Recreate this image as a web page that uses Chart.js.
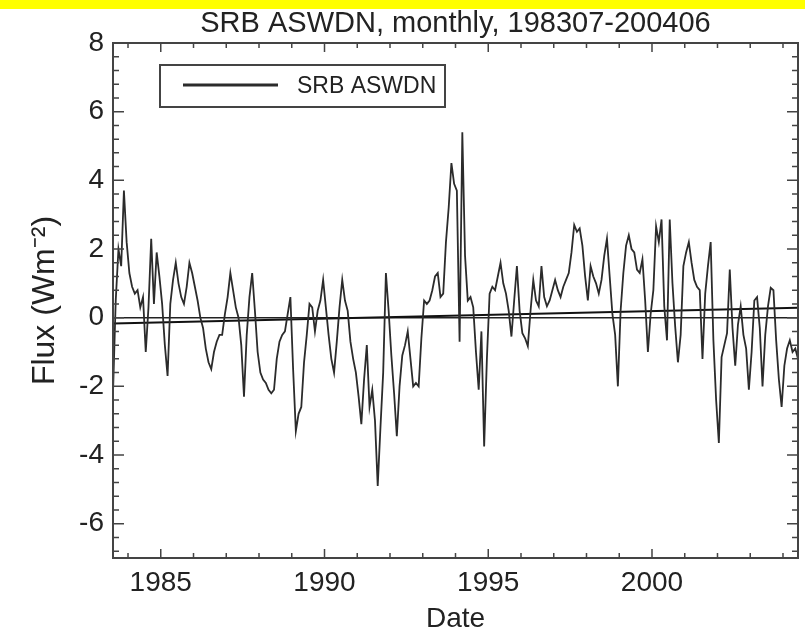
<!DOCTYPE html>
<html>
<head>
<meta charset="utf-8">
<title>SRB ASWDN, monthly</title>
<script src="https://cdn.jsdelivr.net/npm/chart.js@4.4.1/dist/chart.umd.min.js"></script>
<style>
    html, body { margin: 0; padding: 0; background: #fff; }
    #wrap { width: 805px; height: 634px; position: relative; }
</style>
</head>
<body>
<div id="wrap"><canvas id="flux-chart"></canvas></div>
<script>
// monthly anomalies, first value is 1983-07
const startYear = 1983;
const startMonth = 7;
const fluxValues = [
    -2.2, 0.5, 2.0, 1.5, 3.7, 2.2, 1.3, 0.9, 0.7, 0.8, 0.3, 0.6,
    -1.0, 0.3, 2.3, 0.4, 1.9, 1.2, 0.4, -0.8, -1.7, 0.4, 1.1, 1.6,
    1.0, 0.6, 0.4, 0.9, 1.6, 1.3, 0.9, 0.5, 0.0, -0.3, -0.9, -1.3,
    -1.5, -1.0, -0.7, -0.5, -0.5, 0.1, 0.6, 1.3, 0.8, 0.3, 0.0, -0.8,
    -2.3, -0.5, 0.6, 1.3, 0.2, -1.0, -1.6, -1.8, -1.9, -2.1, -2.2, -2.1,
    -1.2, -0.7, -0.5, -0.4, 0.1, 0.6, -1.5, -3.3, -2.8, -2.6, -1.3, -0.5,
    0.4, 0.3, -0.4, 0.2, 0.5, 1.1, 0.3, -0.5, -1.2, -1.6, -0.7, 0.3,
    1.1, 0.5, 0.2, -0.7, -1.2, -1.6, -2.3, -3.1, -1.8, -0.8, -2.6, -2.1,
    -3.0, -4.9, -3.2, -1.6, 1.3, 0.2, -1.1, -2.2, -3.45, -2.0, -1.1, -0.8,
    -0.4, -1.2, -2.0, -1.9, -2.0, -0.6, 0.5, 0.4, 0.5, 0.8, 1.2, 1.3,
    0.6, 0.7, 2.2, 3.2, 4.5, 3.9, 3.7, -0.7, 5.4, 1.8, 0.5, 0.6,
    0.3, -1.0, -2.1, -0.4, -3.75, -1.2, 0.7, 0.9, 0.8, 1.2, 1.6, 1.0,
    0.7, 0.2, -0.55, 0.5, 1.5, 0.2, -0.45, -0.6, -0.83, 0.2, 1.1, 0.5,
    0.33, 1.5, 0.6, 0.33, 0.5, 0.8, 1.1, 0.8, 0.6, 0.9, 1.1, 1.3,
    1.9, 2.7, 2.5, 2.6, 2.1, 1.2, 0.5, 1.5, 1.2, 1.0, 0.7, 1.1,
    1.8, 2.3, 1.2, 0.1, -0.5, -2.0, 0.2, 1.3, 2.1, 2.4, 2.0, 1.9,
    1.4, 1.3, 1.7, 0.5, -1.0, 0.1, 0.8, 2.66, 2.2, 2.86, 0.33, -0.66,
    2.86, 1.0, -0.26, -1.3, -0.5, 1.5, 1.9, 2.2, 1.6, 1.1, 0.9, 0.8,
    -1.2, 0.7, 1.5, 2.2, -0.66, -2.4, -3.65, -1.15, -0.8, -0.45, 1.4, -0.3,
    -1.4, -0.2, 0.33, -0.5, -0.9, -2.1, -1.0, 0.5, 0.6, -0.3, -2.0, -0.5,
    0.33, 0.87, 0.8, -0.66, -1.8, -2.6, -1.4, -0.9, -0.66, -1.0, -0.9, -1.2
];
const trendEnds = [-0.17, 0.29];   // linear fit at first / last month
const xTickYears = [1985, 1990, 1995, 2000];
const yTickValues = [-6, -4, -2, 0, 2, 4, 6, 8];

const seriesLabel = 'SRB ASWDN';
const fontFamily = "'Liberation Sans', Arial, Helvetica, sans-serif";

// decimal year at mid-month
const dates = fluxValues.map((v, i) => startYear + (startMonth - 1 + i + 0.5) / 12);
const firstDate = dates[0];
const lastDate = dates[dates.length - 1];

Chart.defaults.font.family = fontFamily;
Chart.defaults.color = '#222';

// white page, yellow strip, IDL style box with inward ticks, legend box
const idlFrame = {
    id: 'idlFrame',
    beforeDraw(chart) {
        const ctx = chart.ctx;
        ctx.save();
        ctx.fillStyle = '#fff';
        ctx.fillRect(0, 0, chart.width, chart.height);
        ctx.fillStyle = '#ffff00';
        ctx.fillRect(0, 0, chart.width, 9);
        ctx.restore();
    },
    afterDatasetsDraw(chart) {
        const {ctx, chartArea: a, scales: {x, y}} = chart;
        ctx.save();
        ctx.strokeStyle = '#444';
        ctx.lineWidth = 2;
        ctx.strokeRect(a.left, a.top, a.right - a.left, a.bottom - a.top);

        ctx.lineWidth = 1.5;
        ctx.beginPath();
        for (let yr = Math.ceil(x.min); yr <= Math.floor(x.max); yr++) {
            const px = x.getPixelForValue(yr);
            const len = yr % 5 === 0 ? 9 : 5;
            ctx.moveTo(px, a.bottom); ctx.lineTo(px, a.bottom - len);
            ctx.moveTo(px, a.top); ctx.lineTo(px, a.top + len);
        }
        for (let k = Math.ceil(y.min / 0.4); k <= Math.floor(y.max / 0.4); k++) {
            const v = k * 0.4;
            const py = y.getPixelForValue(v);
            const len = k % 5 === 0 ? 11 : 6;
            ctx.moveTo(a.left, py); ctx.lineTo(a.left + len, py);
            ctx.moveTo(a.right, py); ctx.lineTo(a.right - len, py);
        }
        ctx.stroke();
        ctx.restore();
    },
    afterDraw(chart) {
        const ctx = chart.ctx;
        const ds = chart.data.datasets[0];
        ctx.save();
        ctx.strokeStyle = '#444';
        ctx.lineWidth = 2;
        ctx.strokeRect(160, 65, 285, 42);
        ctx.strokeStyle = ds.borderColor;
        ctx.lineWidth = 3;
        ctx.beginPath();
        ctx.moveTo(183, 85);
        ctx.lineTo(278, 85);
        ctx.stroke();
        ctx.fillStyle = '#222';
        ctx.font = '23px ' + fontFamily;
        ctx.textBaseline = 'middle';
        ctx.fillText(ds.label, 297, 87);
        ctx.restore();
    }
};

new Chart(document.getElementById('flux-chart'), {
    type: 'line',
    data: {
        datasets: [
            {
                label: seriesLabel,
                data: fluxValues.map((v, i) => ({x: dates[i], y: v})),
                borderColor: '#2b2b2b',
                borderWidth: 1.8,
                pointRadius: 0,
                tension: 0
            },
            {
                label: 'trend',
                data: [{x: firstDate, y: trendEnds[0]}, {x: lastDate, y: trendEnds[1]}],
                borderColor: '#111',
                borderWidth: 2,
                pointRadius: 0
            },
            {
                label: 'zero',
                data: [{x: firstDate, y: 0}, {x: lastDate, y: 0}],
                borderColor: '#222',
                borderWidth: 1.5,
                pointRadius: 0
            }
        ]
    },
    options: {
        responsive: true,
        maintainAspectRatio: false,
        animation: false,
        layout: { padding: { left: 0, right: 7, top: 0, bottom: 0 } },
        plugins: {
            legend: { display: false },
            tooltip: { enabled: false },
            title: {
                display: true,
                fullSize: false,
                text: 'SRB ASWDN, monthly, 198307-200406',
                color: '#222',
                font: { size: 29, weight: 'normal' },
                padding: { top: 7, bottom: 1.2 }
            }
        },
        scales: {
            x: {
                type: 'linear',
                min: firstDate,
                max: lastDate,
                afterFit(scale) { scale.height = 76; },
                afterBuildTicks(scale) { scale.ticks = xTickYears.map(v => ({value: v})); },
                grid: { display: false, drawTicks: false },
                border: { display: false },
                ticks: {
                    font: { size: 28 },
                    padding: 8,
                    maxRotation: 0,
                    autoSkip: false,
                    callback: v => String(v)
                },
                title: {
                    display: true,
                    text: 'Date',
                    font: { size: 28 },
                    padding: { top: 0, bottom: -2 }
                }
            },
            y: {
                type: 'linear',
                min: -7,
                max: 8,
                afterFit(scale) { scale.width = 113; },
                afterBuildTicks(scale) { scale.ticks = yTickValues.map(v => ({value: v})); },
                grid: { display: false, drawTicks: false },
                border: { display: false },
                ticks: {
                    font: { size: 28 },
                    padding: 9,
                    autoSkip: false,
                    callback: v => String(v)
                },
                title: {
                    display: true,
                    text: 'Flux (Wm\u207B\u00B2)',
                    font: { size: 32 },
                    padding: { top: 26, bottom: 0 }
                }
            }
        }
    },
    plugins: [idlFrame]
});
</script>
</body>
</html>
